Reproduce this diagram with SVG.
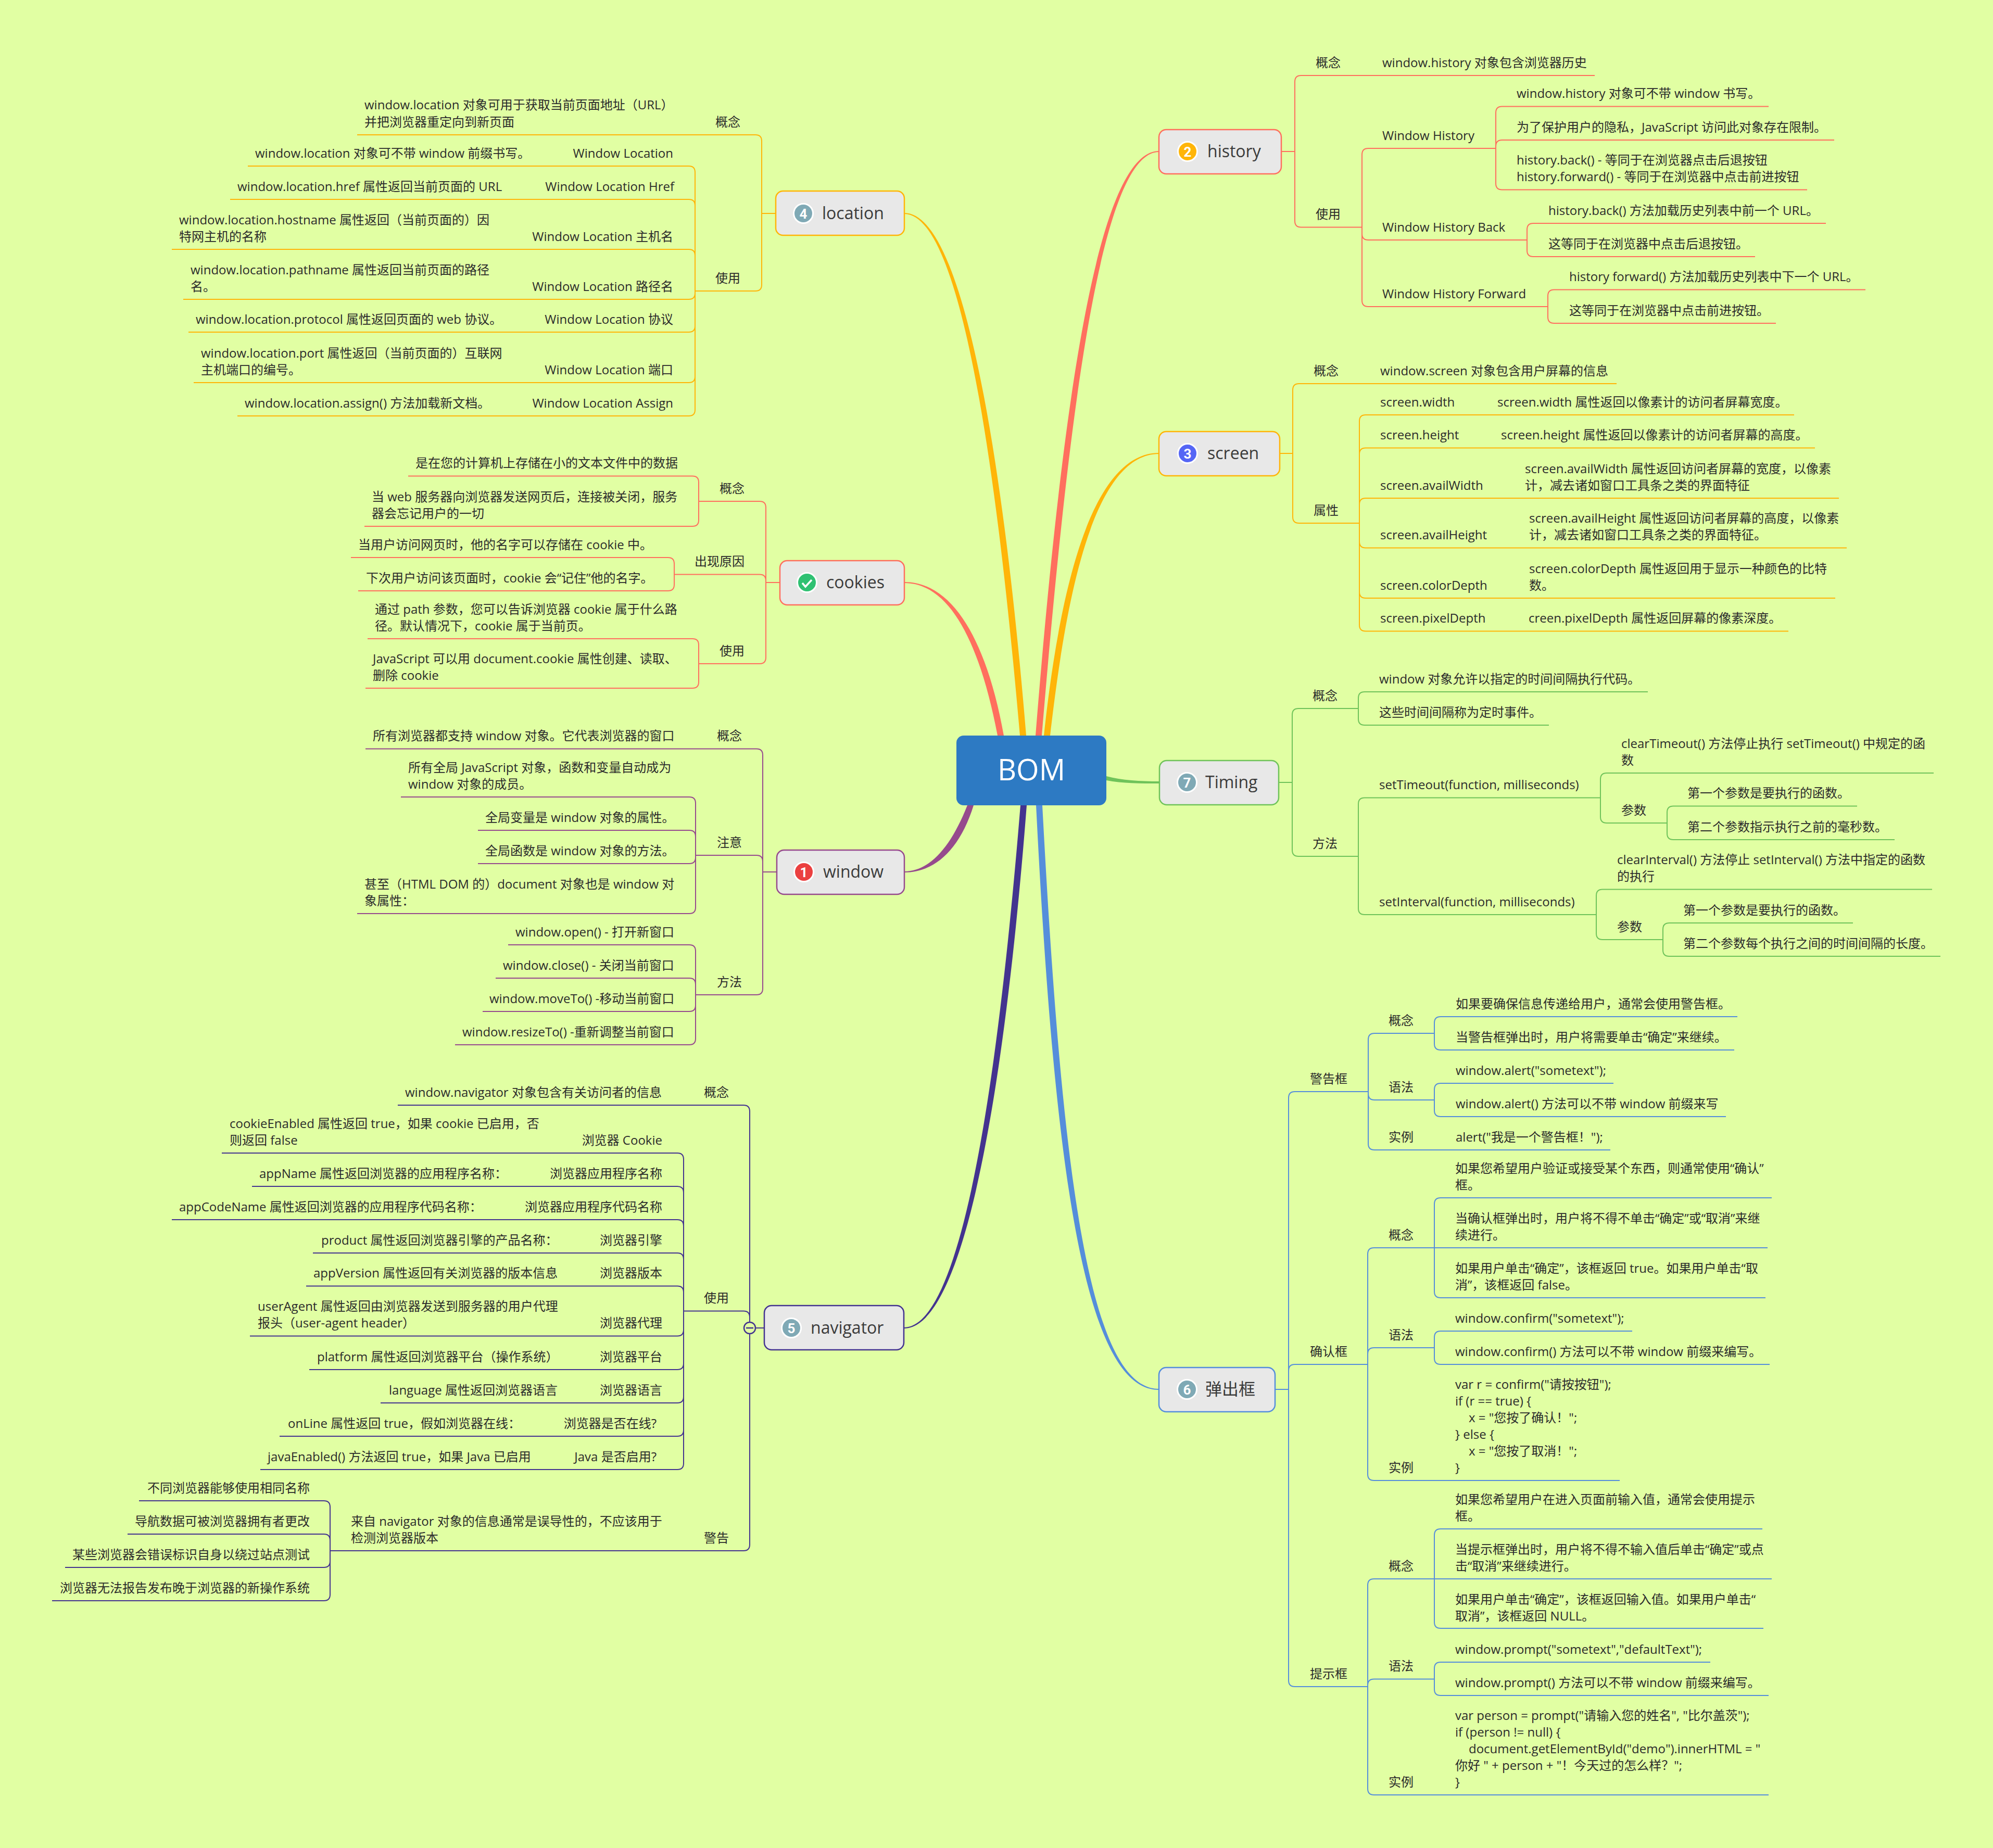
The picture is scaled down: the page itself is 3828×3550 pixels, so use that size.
<svg xmlns="http://www.w3.org/2000/svg" width="3828" height="3550" viewBox="0 0 3828 3550">
<style>
text{font-family:"Open Sans","Noto Sans CJK SC",sans-serif;fill:#2b2b2b;font-size:24px}
.e{text-anchor:end}
.title{font-size:32px;fill:#3a3a3a}
.num{font-family:Roboto,sans-serif;font-size:26px;font-weight:700;fill:#fff;text-anchor:middle}
.main{font-size:56px;fill:#fff;text-anchor:middle}
.box{fill:#e8e8e8;stroke-width:2.5}
.ic{stroke:#fff;stroke-width:3}
.l{fill:none;stroke-width:2}
.red{stroke:#ff6f5e}.org{stroke:#ffb508}.pur{stroke:#964a8d}.nav{stroke:#43338f}.blu{stroke:#558edb}.grn{stroke:#6fc35a}
.f-red{fill:#ff6f5e}.f-org{fill:#ffb508}.f-pur{fill:#964a8d}.f-nav{fill:#43338f}.f-blu{fill:#558edb}.f-grn{fill:#6fc35a}
</style>
<rect width="3828" height="3550" fill="#e1ffa3"/>
<g id="connectors">
<g id="branches">
<path class="f-red" d="M1989 1413C2038 800 2106 290 2226 290V292C2114 292 2052 800 2001 1413Z"/>
<path class="f-org" d="M2005 1413C2028 1200 2081 870 2226 870V872C2089 872 2042 1200 2017 1413Z"/>
<path class="f-org" d="M1737 409C1864 409 1937 1000 1971 1413H1959C1923 1000 1856 411 1737 411Z"/>
<path class="f-red" d="M1737 1118C1834 1118 1897 1240 1928 1413H1916C1883 1240 1826 1120 1737 1120Z"/>
<path class="f-pur" d="M1737 1674C1786 1674 1827 1626 1858 1547H1870C1843 1634 1794 1676 1737 1676Z"/>
<path class="f-nav" d="M1736 2550C1856 2550 1923 2000 1960 1547H1972C1937 2000 1864 2552 1736 2552Z"/>
<path class="f-blu" d="M1990 1547C2023 2200 2076 2670 2226 2670V2668C2084 2668 2037 2200 2002 1547Z"/>
<path class="f-grn" d="M2125 1491C2155 1499 2190 1501 2227 1501V1505C2190 1505 2155 1505 2125 1499Z"/>
</g>
<g class="l red">
<path d="M2461 291H2487M2487 291V157Q2487 145 2499 145H3063M2487 291V424.5Q2487 436.5 2499 436.5H2616M2616 436.5V297Q2616 285 2628 285H2873M2616 436.5V449Q2616 461 2628 461H2933M2616 436.5V577Q2616 589 2628 589H2973M2873 285V216.6Q2873 204.6 2885 204.6H3397M2873 285V281Q2873 269 2885 269H3523M2873 285V352.5Q2873 364.5 2885 364.5H3471M2933 461V441Q2933 429 2945 429H3507M2933 461V481Q2933 493 2945 493H3371M2973 589V568.6Q2973 556.6 2985 556.6H3583M2973 589V609Q2973 621 2985 621H3411"/>
<path d="M1498 1119H1471M1471 1119V975Q1471 963 1459 963H1342M1471 1119V1115.5Q1471 1103.5 1459 1103.5H1295M1471 1119V1263Q1471 1275 1459 1275H1342M1342 963V926.5Q1342 914.5 1330 914.5H784M1342 963V999Q1342 1011 1330 1011H700M1295 1103.5V1083Q1295 1071 1283 1071H674M1295 1103.5V1123Q1295 1135 1283 1135H688M1342 1275V1239Q1342 1227 1330 1227H706M1342 1275V1310Q1342 1322 1330 1322H702"/>
</g>
<g class="l org">
<path d="M2458 871H2483M2483 871V749Q2483 737 2495 737H3105M2483 871V993Q2483 1005 2495 1005H2611M2611 1005V809Q2611 797 2623 797H3446M2611 1005V872.5Q2611 860.5 2623 860.5H3486M2611 1005V969Q2611 957 2623 957H3532M2611 1005V1040.5Q2611 1052.5 2623 1052.5H3547M2611 1005V1137Q2611 1149 2623 1149H3525M2611 1005V1200.5Q2611 1212.5 2623 1212.5H3435"/>
<path d="M1490 410H1463M1463 410V271Q1463 259 1451 259H686M1463 410V547Q1463 559 1451 559H1335M1335 559V331Q1335 319 1323 319H476M1335 559V395Q1335 383 1323 383H442M1335 559V491Q1335 479 1323 479H330M1335 559V563Q1335 575 1323 575H352M1335 559V626Q1335 638 1323 638H362M1335 559V723Q1335 735 1323 735H372M1335 559V787Q1335 799 1323 799H456"/>
</g>
<g class="l pur">
<path d="M1492 1675H1465M1465 1675V1450.5Q1465 1438.5 1453 1438.5H702M1465 1675V1655Q1465 1643 1453 1643H1336M1465 1675V1899Q1465 1911 1453 1911H1336M1336 1643V1543Q1336 1531 1324 1531H770M1336 1643V1607Q1336 1595 1324 1595H918M1336 1643V1647Q1336 1659 1324 1659H918M1336 1643V1743Q1336 1755 1324 1755H686M1336 1911V1827Q1336 1815 1324 1815H976M1336 1911V1891Q1336 1879 1324 1879H952M1336 1911V1931Q1336 1943 1324 1943H927M1336 1911V1995Q1336 2007 1324 2007H874"/>
</g>
<g class="l nav">
<path d="M1468 2551H1440M1440 2551V2135Q1440 2123 1428 2123H764M1440 2551V2530.5Q1440 2518.5 1428 2518.5H1313M1440 2551V2967Q1440 2979 1428 2979H634M1313 2518.5V2227Q1313 2215 1301 2215H426M1313 2518.5V2291Q1313 2279 1301 2279H484M1313 2518.5V2355Q1313 2343 1301 2343H330M1313 2518.5V2419Q1313 2407 1301 2407H601M1313 2518.5V2482.5Q1313 2470.5 1301 2470.5H588M1313 2518.5V2554.5Q1313 2566.5 1301 2566.5H480M1313 2518.5V2619Q1313 2631 1301 2631H594M1313 2518.5V2683Q1313 2695 1301 2695H731M1313 2518.5V2747Q1313 2759 1301 2759H537M1313 2518.5V2811Q1313 2823 1301 2823H500M634 2979V2895Q634 2883 622 2883H267M634 2979V2959Q634 2947 622 2947H245M634 2979V2999Q634 3011 622 3011H125M634 2979V3063Q634 3075 622 3075H100"/>
</g>
<g class="l grn">
<path d="M2456 1503H2482M2482 1503V1373Q2482 1361 2494 1361H2609M2482 1503V1633Q2482 1645 2494 1645H2609M2609 1361V1341Q2609 1329 2621 1329H3165M2609 1361V1381Q2609 1393 2621 1393H2975M2609 1645V1544.5Q2609 1532.5 2621 1532.5H3074M2609 1645V1745Q2609 1757 2621 1757H3066M3074 1532.5V1497Q3074 1485 3086 1485H3714M3074 1532.5V1569Q3074 1581 3086 1581H3202M3202 1581V1560.5Q3202 1548.5 3214 1548.5H3567M3202 1581V1601Q3202 1613 3214 1613H3639M3066 1757V1720.6Q3066 1708.6 3078 1708.6H3711M3066 1757V1793Q3066 1805 3078 1805H3194M3194 1805V1785Q3194 1773 3206 1773H3559M3194 1805V1825Q3194 1837 3206 1837H3727"/>
</g>
<g class="l blu">
<path d="M2449 2669H2475M2475 2669V2109Q2475 2097 2487 2097H2628M2475 2669V2633Q2475 2621 2487 2621H2627M2475 2669V3228Q2475 3240 2487 3240H2627M2628 2097V1997Q2628 1985 2640 1985H2755M2628 2097V2101Q2628 2113 2640 2113H2755M2628 2097V2197Q2628 2209 2640 2209H3093M2755 1985V1965Q2755 1953 2767 1953H3337M2755 1985V2005Q2755 2017 2767 2017H3331M2755 2113V2093Q2755 2081 2767 2081H3099M2755 2113V2133Q2755 2145 2767 2145H3315"/>
<path d="M2627 2621V2409Q2627 2397 2639 2397H2755M2627 2621V2601Q2627 2589 2639 2589H2755M2627 2621V2832Q2627 2844 2639 2844H3111M2755 2397V2313Q2755 2301 2767 2301H3403M2755 2397H3395M2755 2397V2481Q2755 2493 2767 2493H3391M2755 2589V2569Q2755 2557 2767 2557H3135M2755 2589V2609Q2755 2621 2767 2621H3399"/>
<path d="M2627 3240V3045Q2627 3033 2639 3033H2755M2627 3240V3237.5Q2627 3225.5 2639 3225.5H2755M2627 3240V3436Q2627 3448 2639 3448H3397M2755 3033V2949Q2755 2937 2767 2937H3385M2755 3033H3403M2755 3033V3116Q2755 3128 2767 3128H3387M2755 3225.5V3205Q2755 3193 2767 3193H3285M2755 3225.5V3245Q2755 3257 2767 3257H3397"/>
</g>
</g>
<g id="root"><rect x="1837" y="1413" width="288" height="134" rx="14" fill="#2d7ac3"/><text class="main" x="1981" y="1499">BOM</text></g>
<g id="history">
<rect class="box red" x="2226" y="249" width="235" height="85" rx="14"/><circle class="ic" cx="2281" cy="291" r="18.500" fill="#ffb508"/><text class="num" x="2281" y="301">2</text><text class="title" x="2319" y="302">history</text>
<g id="h1"><text x="2527" y="129">概念</text><text x="2655" y="129">window.history 对象包含浏览器历史</text></g>
<g id="h2"><text x="2527" y="420">使用</text></g>
<g id="h3"><text x="2655" y="269">Window History</text></g>
<g id="h4"><text x="2913" y="188">window.history 对象可不带 window 书写。</text></g>
<g id="h5"><text x="2913" y="253">为了保护用户的隐私，JavaScript 访问此对象存在限制。</text></g>
<g id="h6"><text x="2913" y="316">history.back() - 等同于在浏览器点击后退按钮</text><text x="2913" y="348">history.forward() - 等同于在浏览器中点击前进按钮</text></g>
<g id="h7"><text x="2655" y="445">Window History Back</text></g>
<g id="h8"><text x="2974" y="413">history.back() 方法加载历史列表中前一个 URL。</text></g>
<g id="h9"><text x="2974" y="477">这等同于在浏览器中点击后退按钮。</text></g>
<g id="h10"><text x="2655" y="573">Window History Forward</text></g>
<g id="h11"><text x="3014" y="540">history forward() 方法加载历史列表中下一个 URL。</text></g>
<g id="h12"><text x="3014" y="605">这等同于在浏览器中点击前进按钮。</text></g>
</g>
<g id="screen">
<rect class="box org" x="2226" y="829" width="232" height="85" rx="14"/><circle class="ic" cx="2281" cy="871" r="18.500" fill="#5566f5"/><text class="num" x="2281" y="881">3</text><text class="title" x="2319" y="882">screen</text>
<g id="s1"><text x="2523" y="721">概念</text><text x="2651" y="721">window.screen 对象包含用户屏幕的信息</text></g>
<g id="s2"><text x="2523" y="989">属性</text></g>
<g id="s3"><text x="2651" y="781">screen.width</text><text x="2876" y="781">screen.width 属性返回以像素计的访问者屏幕宽度。</text></g>
<g id="s4"><text x="2651" y="844">screen.height</text><text x="2883" y="844">screen.height 属性返回以像素计的访问者屏幕的高度。</text></g>
<g id="s5"><text x="2651" y="941">screen.availWidth</text><text x="2929" y="909">screen.availWidth 属性返回访问者屏幕的宽度，以像素</text><text x="2929" y="941">计，减去诸如窗口工具条之类的界面特征</text></g>
<g id="s6"><text x="2651" y="1036">screen.availHeight</text><text x="2937" y="1004">screen.availHeight 属性返回访问者屏幕的高度，以像素</text><text x="2937" y="1036">计，减去诸如窗口工具条之类的界面特征。</text></g>
<g id="s7"><text x="2651" y="1133">screen.colorDepth</text><text x="2937" y="1101">screen.colorDepth 属性返回用于显示一种颜色的比特</text><text x="2937" y="1133">数。</text></g>
<g id="s8"><text x="2651" y="1196">screen.pixelDepth</text><text x="2936" y="1196">creen.pixelDepth 属性返回屏幕的像素深度。</text></g>
</g>
<g id="location">
<rect class="box org" x="1490" y="367" width="247" height="85" rx="14"/><circle class="ic" cx="1543" cy="410" r="18.500" fill="#7fa9b5"/><text class="num" x="1543" y="420">4</text><text class="title" x="1579" y="421">location</text>
<g id="l1"><text x="700" y="210">window.location 对象可用于获取当前页面地址（URL）</text><text x="700" y="243">并把浏览器重定向到新页面</text><text class="e" x="1422" y="243">概念</text></g>
<g id="l2"><text class="e" x="1422" y="543">使用</text></g>
<g id="l3"><text x="490" y="303">window.location 对象可不带 window 前缀书写。</text><text class="e" x="1293" y="303">Window Location</text></g>
<g id="l4"><text x="456" y="367">window.location.href 属性返回当前页面的 URL</text><text class="e" x="1295" y="367">Window Location Href</text></g>
<g id="l5"><text x="344" y="431">window.location.hostname 属性返回（当前页面的）因</text><text x="344" y="463">特网主机的名称</text><text class="e" x="1293" y="463">Window Location 主机名</text></g>
<g id="l6"><text x="366" y="527">window.location.pathname 属性返回当前页面的路径</text><text x="366" y="559">名。</text><text class="e" x="1293" y="559">Window Location 路径名</text></g>
<g id="l7"><text x="376" y="622">window.location.protocol 属性返回页面的 web 协议。</text><text class="e" x="1293" y="622">Window Location 协议</text></g>
<g id="l8"><text x="386" y="687">window.location.port 属性返回（当前页面的）互联网</text><text x="386" y="719">主机端口的编号。</text><text class="e" x="1293" y="719">Window Location 端口</text></g>
<g id="l9"><text x="470" y="783">window.location.assign() 方法加载新文档。</text><text class="e" x="1293" y="783">Window Location Assign</text></g>
</g>
<g id="cookies">
<rect class="box red" x="1498" y="1077" width="239" height="85" rx="14"/><circle class="ic" cx="1550" cy="1119" r="18.500" fill="#2fc172"/><path d="M1541 1120l6 7 12-13" fill="none" stroke="#fff" stroke-width="3.500"/><text class="title" x="1587" y="1130">cookies</text>
<g id="c1"><text class="e" x="1430" y="947">概念</text></g>
<g id="c2"><text class="e" x="1430" y="1087">出现原因</text></g>
<g id="c3"><text class="e" x="1430" y="1259">使用</text></g>
<g id="c4"><text x="798" y="898">是在您的计算机上存储在小的文本文件中的数据</text></g>
<g id="c5"><text x="714" y="963">当 web 服务器向浏览器发送网页后，连接被关闭，服务</text><text x="714" y="995">器会忘记用户的一切</text></g>
<g id="c6"><text x="688" y="1055">当用户访问网页时，他的名字可以存储在 cookie 中。</text></g>
<g id="c7"><text x="703" y="1119">下次用户访问该页面时，cookie 会“记住”他的名字。</text></g>
<g id="c8"><text x="720" y="1179">通过 path 参数，您可以告诉浏览器 cookie 属于什么路</text><text x="720" y="1211">径。默认情况下，cookie 属于当前页。</text></g>
<g id="c9"><text x="716" y="1274">JavaScript 可以用 document.cookie 属性创建、读取、</text><text x="716" y="1306">删除 cookie</text></g>
</g>
<g id="window">
<rect class="box pur" x="1492" y="1633" width="245" height="85" rx="14"/><circle class="ic" cx="1544" cy="1675" r="18.500" fill="#eb4040"/><text class="num" x="1544" y="1685">1</text><text class="title" x="1581" y="1686">window</text>
<g id="w1"><text x="716" y="1422">所有浏览器都支持 window 对象。它代表浏览器的窗口</text><text class="e" x="1425" y="1422">概念</text></g>
<g id="w2"><text class="e" x="1425" y="1627">注意</text></g>
<g id="w3"><text class="e" x="1425" y="1895">方法</text></g>
<g id="w4"><text x="784" y="1483">所有全局 JavaScript 对象，函数和变量自动成为</text><text x="784" y="1515">window 对象的成员。</text></g>
<g id="w5"><text x="932" y="1579">全局变量是 window 对象的属性。</text></g>
<g id="w6"><text x="932" y="1643">全局函数是 window 对象的方法。</text></g>
<g id="w7"><text x="700" y="1707">甚至（HTML DOM 的）document 对象也是 window 对</text><text x="700" y="1739">象属性：</text></g>
<g id="w8"><text x="990" y="1799">window.open() - 打开新窗口</text></g>
<g id="w9"><text x="966" y="1863">window.close() - 关闭当前窗口</text></g>
<g id="w10"><text x="940" y="1927">window.moveTo() -移动当前窗口</text></g>
<g id="w11"><text x="888" y="1991">window.resizeTo() -重新调整当前窗口</text></g>
</g>
<g id="navigator">
<rect class="box nav" x="1468" y="2508" width="268" height="85" rx="14"/><circle cx="1440" cy="2551" r="11" fill="#e1ffa3" stroke="#43338f" stroke-width="2.500"/><path d="M1433 2551H1447" stroke="#43338f" stroke-width="2.500"/><circle class="ic" cx="1520" cy="2551" r="18.500" fill="#7fa9b5"/><text class="num" x="1520" y="2561">5</text><text class="title" x="1557" y="2562">navigator</text>
<g id="n1"><text x="778" y="2107">window.navigator 对象包含有关访问者的信息</text><text x="1352" y="2107">概念</text></g>
<g id="n2"><text x="1352" y="2502">使用</text></g>
<g id="n3"><text x="674" y="2931">来自 navigator 对象的信息通常是误导性的，不应该用于</text><text x="674" y="2963">检测浏览器版本</text><text x="1352" y="2963">警告</text></g>
<g id="n4"><text x="441" y="2167">cookieEnabled 属性返回 true，如果 cookie 已启用，否</text><text x="441" y="2199">则返回 false</text><text class="e" x="1272" y="2199">浏览器 Cookie</text></g>
<g id="n5"><text x="498" y="2263">appName 属性返回浏览器的应用程序名称：</text><text class="e" x="1272" y="2263">浏览器应用程序名称</text></g>
<g id="n6"><text x="344" y="2327">appCodeName 属性返回浏览器的应用程序代码名称：</text><text class="e" x="1272" y="2327">浏览器应用程序代码名称</text></g>
<g id="n7"><text x="617" y="2391">product 属性返回浏览器引擎的产品名称：</text><text class="e" x="1272" y="2391">浏览器引擎</text></g>
<g id="n8"><text x="602" y="2454">appVersion 属性返回有关浏览器的版本信息</text><text class="e" x="1272" y="2454">浏览器版本</text></g>
<g id="n9"><text x="495" y="2518">userAgent 属性返回由浏览器发送到服务器的用户代理</text><text x="495" y="2550">报头（user-agent header）</text><text class="e" x="1272" y="2550">浏览器代理</text></g>
<g id="n10"><text x="609" y="2615">platform 属性返回浏览器平台（操作系统）</text><text class="e" x="1272" y="2615">浏览器平台</text></g>
<g id="n11"><text x="747" y="2679">language 属性返回浏览器语言</text><text class="e" x="1272" y="2679">浏览器语言</text></g>
<g id="n12"><text x="553" y="2743">onLine 属性返回 true，假如浏览器在线：</text><text class="e" x="1261" y="2743">浏览器是否在线?</text></g>
<g id="n13"><text x="514" y="2807">javaEnabled() 方法返回 true，如果 Java 已启用</text><text class="e" x="1261" y="2807">Java 是否启用?</text></g>
<g id="n14"><text class="e" x="595" y="2867">不同浏览器能够使用相同名称</text></g>
<g id="n15"><text class="e" x="595" y="2931">导航数据可被浏览器拥有者更改</text></g>
<g id="n16"><text class="e" x="595" y="2995">某些浏览器会错误标识自身以绕过站点测试</text></g>
<g id="n17"><text class="e" x="595" y="3059">浏览器无法报告发布晚于浏览器的新操作系统</text></g>
</g>
<g id="timing">
<rect class="box grn" x="2227" y="1461" width="229" height="85" rx="14"/><circle class="ic" cx="2280" cy="1503" r="18.500" fill="#7fa9b5"/><text class="num" x="2280" y="1513">7</text><text class="title" x="2315" y="1514">Timing</text>
<g id="t1"><text x="2521" y="1345">概念</text></g>
<g id="t2"><text x="2521" y="1629">方法</text></g>
<g id="t3"><text x="2649" y="1313">window 对象允许以指定的时间间隔执行代码。</text></g>
<g id="t4"><text x="2649" y="1377">这些时间间隔称为定时事件。</text></g>
<g id="t5"><text x="2649" y="1516">setTimeout(function, milliseconds)</text></g>
<g id="t6"><text x="2649" y="1741">setInterval(function, milliseconds)</text></g>
<g id="t7"><text x="3114" y="1437">clearTimeout() 方法停止执行 setTimeout() 中规定的函</text><text x="3114" y="1469">数</text></g>
<g id="t8"><text x="3114" y="1565">参数</text></g>
<g id="t9"><text x="3241" y="1532">第一个参数是要执行的函数。</text></g>
<g id="t10"><text x="3241" y="1597">第二个参数指示执行之前的毫秒数。</text></g>
<g id="t11"><text x="3106" y="1660">clearInterval() 方法停止 setInterval() 方法中指定的函数</text><text x="3106" y="1692">的执行</text></g>
<g id="t12"><text x="3106" y="1789">参数</text></g>
<g id="t13"><text x="3233" y="1757">第一个参数是要执行的函数。</text></g>
<g id="t14"><text x="3233" y="1821">第二个参数每个执行之间的时间间隔的长度。</text></g>
</g>
<g id="popup">
<rect class="box blu" x="2226" y="2627" width="223" height="85" rx="14"/><circle class="ic" cx="2280" cy="2669" r="18.500" fill="#7fa9b5"/><text class="num" x="2280" y="2679">6</text><text class="title" x="2315" y="2680">弹出框</text>
<g id="p1"><text x="2516" y="2081">警告框</text></g>
<g id="p2"><text x="2667" y="1969">概念</text></g>
<g id="p3"><text x="2667" y="2097">语法</text></g>
<g id="p4"><text x="2667" y="2193">实例</text><text x="2796" y="2193">alert("我是一个警告框！");</text></g>
<g id="p5"><text x="2796" y="1937">如果要确保信息传递给用户，通常会使用警告框。</text></g>
<g id="p6"><text x="2796" y="2001">当警告框弹出时，用户将需要单击“确定”来继续。</text></g>
<g id="p7"><text x="2796" y="2065">window.alert("sometext");</text></g>
<g id="p8"><text x="2796" y="2129">window.alert() 方法可以不带 window 前缀来写</text></g>
<g id="p9"><text x="2516" y="2605">确认框</text></g>
<g id="p10"><text x="2667" y="2381">概念</text></g>
<g id="p11"><text x="2667" y="2573">语法</text></g>
<g id="p12"><text x="2667" y="2828">实例</text><text x="2795" y="2668">var r = confirm("请按按钮");</text><text x="2795" y="2700">if (r == true) {</text><text x="2821" y="2732">x = "您按了确认！";</text><text x="2795" y="2764">} else {</text><text x="2821" y="2796">x = "您按了取消！";</text><text x="2795" y="2828">}</text></g>
<g id="p13"><text x="2795" y="2253">如果您希望用户验证或接受某个东西，则通常使用“确认”</text><text x="2795" y="2285">框。</text></g>
<g id="p14"><text x="2795" y="2349">当确认框弹出时，用户将不得不单击“确定”或“取消”来继</text><text x="2795" y="2381">续进行。</text></g>
<g id="p15"><text x="2795" y="2445">如果用户单击“确定”，该框返回 true。如果用户单击“取</text><text x="2795" y="2477">消”，该框返回 false。</text></g>
<g id="p16"><text x="2795" y="2541">window.confirm("sometext");</text></g>
<g id="p17"><text x="2795" y="2605">window.confirm() 方法可以不带 window 前缀来编写。</text></g>
<g id="p18"><text x="2516" y="3224">提示框</text></g>
<g id="p19"><text x="2667" y="3017">概念</text></g>
<g id="p20"><text x="2667" y="3209">语法</text></g>
<g id="p21"><text x="2667" y="3432">实例</text><text x="2795" y="3304">var person = prompt("请输入您的姓名", "比尔盖茨");</text><text x="2795" y="3336">if (person != null) {</text><text x="2821" y="3368">document.getElementById("demo").innerHTML = "</text><text x="2795" y="3400">你好 " + person + "！今天过的怎么样？";</text><text x="2795" y="3432">}</text></g>
<g id="p22"><text x="2795" y="2889">如果您希望用户在进入页面前输入值，通常会使用提示</text><text x="2795" y="2921">框。</text></g>
<g id="p23"><text x="2795" y="2985">当提示框弹出时，用户将不得不输入值后单击“确定”或点</text><text x="2795" y="3017">击“取消”来继续进行。</text></g>
<g id="p24"><text x="2795" y="3081">如果用户单击“确定”，该框返回输入值。如果用户单击“</text><text x="2795" y="3113">取消”，该框返回 NULL。</text></g>
<g id="p25"><text x="2795" y="3177">window.prompt("sometext","defaultText");</text></g>
<g id="p26"><text x="2795" y="3241">window.prompt() 方法可以不带 window 前缀来编写。</text></g>
</g>
</svg>
